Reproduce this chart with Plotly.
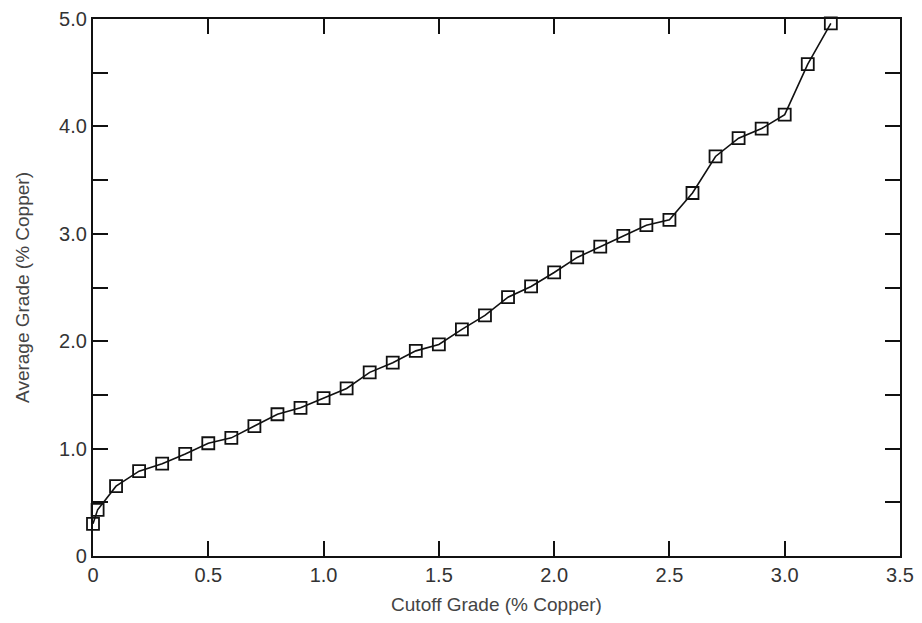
import plotly.graph_objects as go

cutoff = [0.0, 0.02, 0.1, 0.2, 0.3, 0.4, 0.5, 0.6, 0.7, 0.8, 0.9, 1.0, 1.1, 1.2, 1.3, 1.4,
          1.5, 1.6, 1.7, 1.8, 1.9, 2.0, 2.1, 2.2, 2.3, 2.4, 2.5, 2.6, 2.7, 2.8, 2.9,
          3.0, 3.1, 3.2]
avg_grade = [0.30, 0.43, 0.65, 0.79, 0.86, 0.95, 1.05, 1.10, 1.21, 1.32, 1.38, 1.47, 1.56,
             1.71, 1.80, 1.91, 1.97, 2.11, 2.24, 2.41, 2.51, 2.64, 2.78, 2.88, 2.98,
             3.08, 3.13, 3.38, 3.72, 3.89, 3.98, 4.11, 4.58, 4.96]

x_tickvals = [0, 0.5, 1.0, 1.5, 2.0, 2.5, 3.0, 3.5]
x_ticktext = ["0", "0.5", "1.0", "1.5", "2.0", "2.5", "3.0", "3.5"]
y_tickvals = [0, 0.5, 1.0, 1.5, 2.0, 2.5, 3.0, 3.5, 4.0, 4.5, 5.0]
y_ticktext = ["0", "", "1.0", "", "2.0", "", "3.0", "", "4.0", "", "5.0"]

fig = go.Figure()
fig.add_trace(go.Scatter(
    x=cutoff, y=avg_grade, mode="lines+markers",
    line=dict(color="#111", width=1.6),
    marker=dict(symbol="square-open", size=12, color="#111", line=dict(width=1.8)),
    cliponaxis=False, showlegend=False,
))

axis_common = dict(
    showline=True, linecolor="#111", linewidth=2.2, mirror="ticks",
    ticks="inside", tickcolor="#111", tickwidth=2, ticklen=15,
    showgrid=False, zeroline=False, automargin=False, ticklabeloverflow="allow",
    tickfont=dict(family="Liberation Sans, Arial, sans-serif", size=20, color="#333"),
)

fig.update_layout(
    width=914, height=607,
    margin=dict(l=85, r=22, t=11, b=59),
    paper_bgcolor="white", plot_bgcolor="white",
    font=dict(family="Liberation Sans, Arial, sans-serif", color="#444"),
    xaxis=dict(range=[0, 3.5], tickvals=x_tickvals, ticktext=x_ticktext,
               title=dict(text="Cutoff Grade (% Copper)", font=dict(size=19, color="#444"), standoff=14),
               **axis_common),
    yaxis=dict(range=[0, 5.0], tickvals=y_tickvals, ticktext=y_ticktext,
               title=dict(text="Average Grade (% Copper)", font=dict(size=19, color="#444"), standoff=24),
               **axis_common),
)

fig.write_html("out.html")
